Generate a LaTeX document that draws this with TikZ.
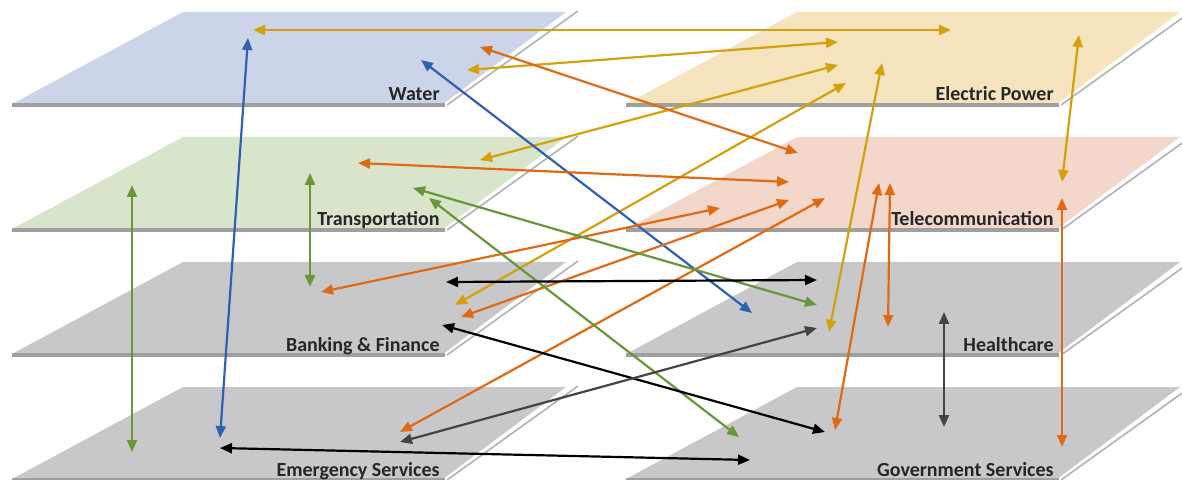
\documentclass[tikz,border=0pt]{standalone}
\usepackage{fontspec}
\setmainfont{Carlito}
\usepackage{tikz}
\usetikzlibrary{arrows.meta}
\definecolor{waterfill}{RGB}{203,212,232}
\definecolor{transfill}{RGB}{216,229,203}
\definecolor{powerfill}{RGB}{245,228,190}
\definecolor{telefill}{RGB}{243,215,202}
\definecolor{greyfill}{RGB}{200,200,202}
\definecolor{linkgold}{RGB}{212,160,12}
\definecolor{linkorange}{RGB}{224,106,20}
\definecolor{linkblue}{RGB}{48,96,178}
\definecolor{linkgreen}{RGB}{104,150,56}
\definecolor{linkdark}{RGB}{68,68,70}

% one sector plane: x shift, y shift, fill, name, label
\newcommand{\sector}[5]{%
  \fill[#3] (#1+12,#2+104) -- (#1+443,#2+104) -- (#1+566,#2+12) -- (#1+183,#2+12) -- cycle;
  \draw[edge] (#1+12,#2+105) -- (#1+445,#2+105);
  \draw[rim] (#1+447,#2+105) -- (#1+578,#2+11);
  \node[lbl] (#4) at (#1+440,#2+101) {#5};
}

\begin{document}
\begin{tikzpicture}[
  x=0.5pt, y=-0.5pt,
  edge/.style={draw=gray!75, line width=1.6pt},
  rim/.style={draw=gray!60, line width=0.8pt},
  lbl/.style={font=\fontsize{10}{12}\selectfont\bfseries, anchor=base east, inner sep=0pt, text=black!85},
  link/.style={{Triangle[length=6pt,width=5pt]}-{Triangle[length=6pt,width=5pt]}, line width=1.1pt},
]
  \useasboundingbox (0,0) rectangle (1182,480);

  % planes
  \sector{0}{0}{waterfill}{water}{Water}
  \sector{0}{125}{transfill}{trans}{Transportation}
  \sector{0}{250}{greyfill}{bank}{Banking \& Finance}
  \sector{0}{375}{greyfill}{emerg}{Emergency Services}
  \sector{614}{0}{powerfill}{power}{Electric Power}
  \sector{614}{125}{telefill}{tele}{Telecommunication}
  \sector{614}{250}{greyfill}{health}{Healthcare}
  \sector{614}{375}{greyfill}{gov}{Government Services}

  % end points on each plane
  \foreach \n/\x/\y in {w1/253/30, w2/248/38, w3/421/60, w4/480/47, w5/467/70,
    tr1/480/160, tr2/358/163, tr3/132/185, tr4/310/173, tr5/413/188, tr6/429/198,
    b1/310/287, b2/455/305, b3/321/292, b4/461/317, b5/446/282, b6/442/325,
    em1/220/438, em2/132/452, em3/400/432, em4/220/448, em5/400/442,
    e1/951/30, e2/838/42, e3/838/65, e4/846/83, e5/882/63, e6/1079/35,
    t1/798/153, t2/789/182, t3/720/208, t4/789/200, t5/825/198, t6/1062/182,
    t7/879/183, t8/890/183, t9/1062/198,
    h1/752/313, h2/817/305, h3/817/280, h4/817/328, h5/829/332, h6/888/327, h7/944/312,
    g1/739/437, g2/825/432, g3/750/460, g4/835/430, g5/1062/447, g6/944/427}
    \coordinate (\n) at (\x,\y);

  % dependencies
  \foreach \a/\b/\c in {w1/e1/linkgold, w5/e2/linkgold, tr1/e3/linkgold, b2/e4/linkgold,
    e5/h5/linkgold, e6/t6/linkgold,
    w2/em1/linkblue, w3/h1/linkblue,
    w4/t1/linkorange, tr2/t2/linkorange, b3/t3/linkorange, b4/t4/linkorange,
    em3/t5/linkorange, t7/g4/linkorange, t8/h6/linkorange, t9/g5/linkorange,
    tr3/em2/linkgreen, tr4/b1/linkgreen, tr5/h2/linkgreen, tr6/g1/linkgreen,
    b5/h3/black, b6/g2/black, em4/g3/black,
    em5/h4/linkdark, h7/g6/linkdark}
    \draw[link, \c] (\a) -- (\b);
\end{tikzpicture}
\end{document}
